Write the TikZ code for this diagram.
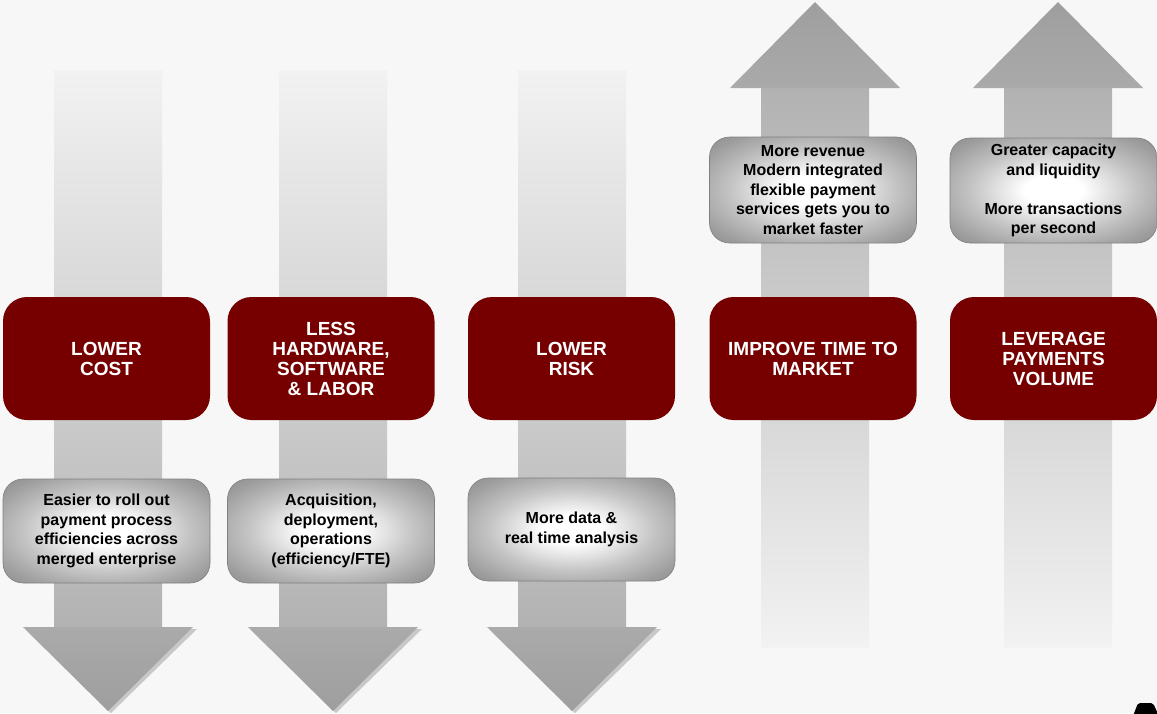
\documentclass[tikz,border=0pt]{standalone}
\usepackage{fontspec}
\setmainfont{Liberation Sans}
\definecolor{pagebg}{HTML}{F7F7F7}
\definecolor{boxred}{HTML}{760000}
\definecolor{glowmid}{HTML}{C4C4C4}
\definecolor{glowdark}{HTML}{9E9E9E}
\definecolor{glowedge}{HTML}{8A8A8A}
\definecolor{noteline}{HTML}{808080}
\definecolor{shaftlight}{HTML}{F2F2F2}
\definecolor{shaftdark}{HTML}{B2B2B2}
\definecolor{headlight}{HTML}{AAAAAA}
\definecolor{headdark}{HTML}{9E9E9E}
\definecolor{headshade}{HTML}{C8C8C8}
\pgfdeclareradialshading{boxglow}{\pgfpoint{0bp}{0bp}}{%
  color(0bp)=(white); color(7bp)=(white); color(20bp)=(glowmid);
  color(30bp)=(glowdark); color(37bp)=(glowedge); color(50bp)=(glowedge)}
\begin{document}
\begin{tikzpicture}[x=1pt,y=-1pt,
  goal/.style={fill=boxred, rounded corners=24pt, minimum width=207pt,
    minimum height=123pt, inner sep=0pt, text=white, align=center,
    font=\bfseries\fontsize{19}{20}\selectfont},
  note/.style={shade, shading=boxglow, draw=noteline, line width=0.6pt,
    rounded corners=20pt, minimum width=207pt, minimum height=104pt,
    inner sep=0pt, text=black, align=center,
    font=\bfseries\fontsize{16}{19.5}\selectfont},
  headcast/.style={fill=headshade}]
\fill[pagebg] (0,0) rectangle (1157,713);
\useasboundingbox (0,0) rectangle (1157,713);

% downward arrows
\foreach \c in {108,333,572} {
  \shade[top color=shaftlight, bottom color=shaftdark]
    ({\c-54},70) rectangle ({\c+54},627);
  \fill[headcast] ({\c-83},629) -- ({\c+89},629) -- ({\c+3},713) -- cycle;
  \shade[top color=headlight, bottom color=headdark]
    ({\c-85},627) -- ({\c+85},627) -- (\c,711) -- cycle;
}
% upward arrows
\foreach \c in {815,1058} {
  \shade[top color=shaftdark, bottom color=shaftlight]
    ({\c-54},88) rectangle ({\c+54},647);
  \shade[top color=headdark, bottom color=headlight]
    ({\c-85},88) -- (\c,2) -- ({\c+85},88) -- cycle;
}

% goals
\node[goal] (cost) at (106.5,358.5) {LOWER\\COST};
\node[goal] (hw) at (331,358.5) {LESS\\HARDWARE,\\SOFTWARE\\\& LABOR};
\node[goal] (risk) at (571.5,358.5) {LOWER\\RISK};
\node[goal] (time) at (813,358.5) {IMPROVE TIME TO\\MARKET};
\node[goal] (vol) at (1053.5,358.5) {LEVERAGE\\PAYMENTS\\VOLUME};

% notes
\node[note] (costnote) at (106.5,531)
  {Easier to roll out\\payment process\\efficiencies across\\merged enterprise};
\node[note] (hwnote) at (331,531)
  {Acquisition,\\deployment,\\operations\\(efficiency/FTE)};
\node[note, minimum height=103pt] (risknote) at (571.5,529.5)
  {More data \&\\real time analysis};
\node[note, minimum height=106pt] (timenote) at (813,190)
  {More revenue\\Modern integrated\\flexible payment\\services gets you to\\market faster};
\node[note, minimum height=105pt] (volnote) at (1053.5,190.5)
  {Greater capacity\\and liquidity\\[19.5pt]More transactions\\per second};

% corner mark
\fill[black, rounded corners=2pt] (1133,716) -- (1138,703) -- (1153,703) -- (1159,716) -- cycle;
\end{tikzpicture}
\end{document}
